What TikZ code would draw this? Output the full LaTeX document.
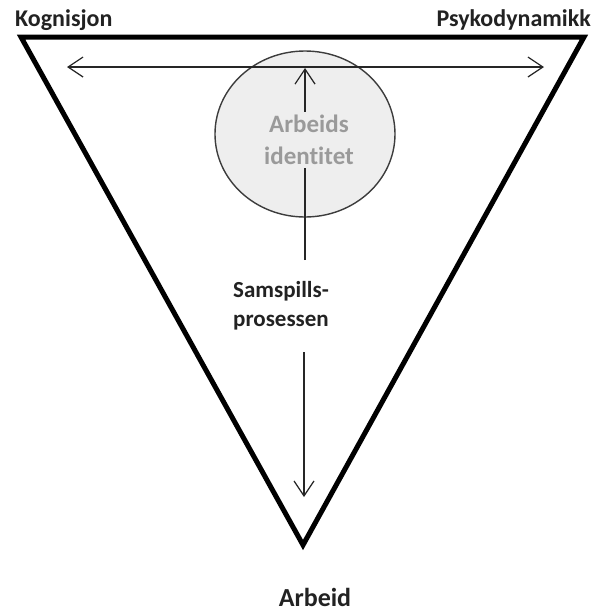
\documentclass[tikz,border=0pt]{standalone}
\usepackage{fontspec}
\setmainfont{Carlito}[Ligatures=NoCommon]
\usetikzlibrary{arrows.meta,shapes.geometric}
\definecolor{circfill}{HTML}{EEEEEE}
\definecolor{circdraw}{HTML}{3C3C3C}
\definecolor{greytext}{HTML}{9A9A9A}
\definecolor{darktext}{HTML}{222222}
\begin{document}
\begin{tikzpicture}[x=1pt,y=-1pt,
  lbl/.style={font=\bfseries\fontsize{24}{28}\selectfont, text=darktext, inner sep=0pt},
  lblbig/.style={font=\bfseries\fontsize{26}{31}\selectfont, text=darktext, inner sep=0pt},
  tri/.style={line width=5pt, line join=miter, draw=black},
  arr/.style={line width=1.2pt, draw=black!85, -{Straight Barb[length=15pt,width=20pt,line width=1.2pt]}},
  dblarr/.style={line width=1.2pt, draw=black!85, {Straight Barb[length=15pt,width=20pt,line width=1.2pt]}-{Straight Barb[length=15pt,width=20pt,line width=1.2pt]}},
  identcirc/.style={ellipse, draw=circdraw, line width=1.4pt, fill=circfill, minimum width=180pt, minimum height=166pt, inner sep=0pt},
  identtext/.style={font=\bfseries\fontsize{25}{32}\selectfont, text=greytext, fill=circfill, align=center, inner sep=3pt},
  sam/.style={font=\bfseries\fontsize{23}{29}\selectfont, text=darktext, align=left, inner sep=0pt}
]
\useasboundingbox (0,0) rectangle (595,611);
% triangle
\coordinate (TL) at (21,37);
\coordinate (TR) at (584,37);
\coordinate (B) at (303,545);
\draw[tri] (TL) -- (TR) -- (B) -- cycle;
% circle
\node[identcirc] (circ) at (305,134) {};
% horizontal double arrow
\coordinate (HL) at (67,67);
\coordinate (HR) at (544,67);
\draw[dblarr] (HL) -- (HR);
% vertical arrows
\coordinate (VupS) at (305,260);
\coordinate (VupE) at (305,68);
\draw[arr] (VupS) -- (VupE);
\coordinate (VdnS) at (304,352);
\coordinate (VdnE) at (304,497);
\draw[arr] (VdnS) -- (VdnE);
% texts
\node[identtext] (ident) at (309,140) {Arbeids\\identitet};
\node[sam, anchor=west] (samspill) at (233,306) {Samspills-\\prosessen};
\node[lbl, anchor=base west] (kog) at (15,26) {Kognisjon};
\node[lbl, anchor=base east] (psy) at (591,26) {Psykodynamikk};
\node[lblbig, anchor=base] (arb) at (315,606) {Arbeid};
\end{tikzpicture}
\end{document}
